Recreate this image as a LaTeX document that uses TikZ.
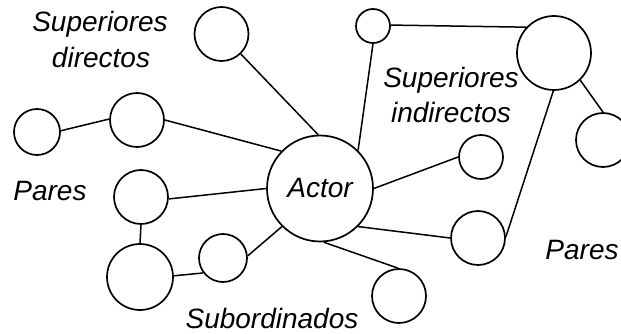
\documentclass[tikz,border=0pt]{standalone}
\usepackage{fontspec}
\setmainfont{Liberation Sans}
\begin{document}
\begin{tikzpicture}[x=1pt,y=-1pt,
  person/.style={draw, circle, line width=1.7pt, inner sep=0pt, minimum size=#1},
  tie/.style={line width=1.5pt},
  lbl/.style={inner sep=0pt, anchor=base, font=\fontsize{28}{34}\selectfont\itshape}]
\useasboundingbox (0,0) rectangle (621,334);

% central actor
\node[person=106pt, font=\fontsize{28}{34}\selectfont\itshape] (actor) at (320,188.5) {Actor};

% superiors
\node[person=54pt] (sd)  at (221.5,34) {};
\node[person=34pt] (si1) at (373,26) {};
\node[person=74pt] (si2) at (554,53) {};
\node[person=54pt] (si3) at (603,140) {};

% peers on the left
\node[person=46pt] (p1) at (37,132) {};
\node[person=54pt] (p2) at (137,120) {};
\node[person=54pt] (l1) at (141,197) {};
\node[person=66pt] (l2) at (140,277) {};
\node[person=48pt] (l3) at (223,258) {};

% right side
\node[person=44pt] (r1) at (481,157) {};
\node[person=54pt] (r2) at (478,238) {};
\node[person=54pt] (b1) at (399,296) {};

% group labels
\node[lbl] (sdA) at (100,32) {Superiores};
\node[lbl] (sdB) at (101,68) {directos};
\node[lbl] (siA) at (451,88) {Superiores};
\node[lbl] (siB) at (451,123) {indirectos};
\node[lbl] (parL) at (50,200) {Pares};
\node[lbl] (parR) at (582,259) {Pares};
\node[lbl] (sub) at (272,328) {Subordinados};

% ties
\draw[tie] (sd.-46) -- (actor.92);
\draw[tie] (p1.3) -- (p2.178);
\draw[tie] (p2.0) -- (actor.136);
\draw[tie] (si1.3) -- (si2.137);
\draw[tie] (si1.-90) -- (actor.45);
\draw[tie] (si2.-46) -- (si3.90);
\draw[tie] (si2.-91) -- (r2.2);
\draw[tie] (actor.0) -- (r1.180);
\draw[tie] (actor.-45) -- (r2.180);
\draw[tie] (actor.-86) -- (b1.92);
\draw[tie] (l1.-4) -- (actor.180);
\draw[tie] (l1.-90) -- (l2.90);
\draw[tie] (l2.2) -- (l3.-143);
\draw[tie] (l3.5) -- (actor.-135);
\end{tikzpicture}
\end{document}
